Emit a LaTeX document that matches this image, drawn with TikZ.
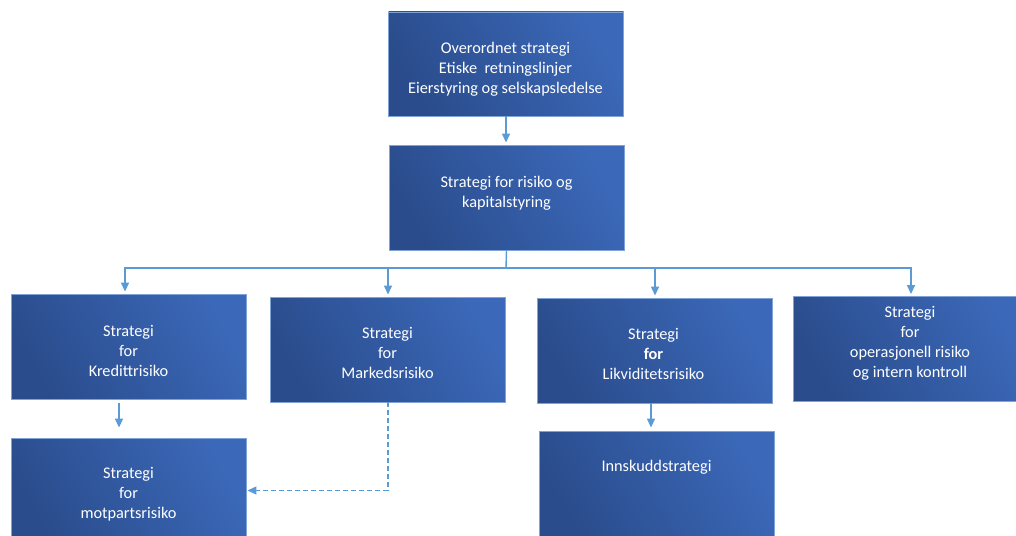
\documentclass[tikz,border=0pt]{standalone}
\usepackage{fontspec}
\setmainfont{Carlito}
\usetikzlibrary{arrows.meta}
\definecolor{boxdark}{HTML}{2A4C8C}
\definecolor{boxlight}{HTML}{3B68B8}
\definecolor{boxedge}{HTML}{7FA3D6}
\definecolor{conncol}{HTML}{5B9BD5}
\tikzset{
  stratbox/.style={draw=boxedge, line width=0.9pt, bottom color=boxdark, top color=boxlight, shading angle=-60,
    minimum width=235pt, minimum height=105pt, inner sep=0pt},
  boxtext/.style={text=white, align=center, inner sep=0pt, font=\fontsize{16.3}{20}\selectfont},
  conn/.style={draw=conncol, line width=1.4pt},
  arr/.style={conn, -{Triangle[length=9pt,width=8pt]}},
}
\begin{document}
\begin{tikzpicture}[x=1pt,y=-1pt]
\useasboundingbox (0,0) rectangle (1016,535);
\clip (0,0) rectangle (1016,535);
\node[stratbox, minimum height=104pt] (b1) at (506,64) {};
\node[stratbox] (b2) at (506.5,197.5) {};
\node[stratbox] (b3) at (128.5,346.5) {};
\node[stratbox] (b4) at (387.5,349.5) {};
\node[stratbox] (b5) at (654.5,350.5) {};
\node[stratbox] (b6) at (911,349) {};
\node[stratbox] (b7) at (128.5,490.5) {};
\node[stratbox] (b8) at (656.5,483.5) {};
\node[boxtext] (t1) at (505.5,69.5) {Overordnet strategi\\Etiske\ \ retningslinjer\\Eierstyring og selskapsledelse};
\node[boxtext] (t2) at (506.5,193) {Strategi for risiko og\\kapitalstyring};
\node[boxtext] (t3) at (128.5,351) {Strategi\\for\\Kredittrisiko};
\node[boxtext] (t4) at (387.5,353) {Strategi\\for\\Markedsrisiko};
\node[boxtext] (t5) at (653.5,354) {Strategi\\\textbf{for}\\Likviditetsrisiko};
\node[boxtext] (t6) at (910,343) {Strategi\\for\\operasjonell risiko\\og intern kontroll};
\node[boxtext] (t7) at (128.5,494) {Strategi\\for\\motpartsrisiko};
\node[boxtext] (t8) at (656.5,467.5) {Innskuddstrategi};
\coordinate (bus) at (506,268);
\draw[arr] (b1.south) -- ([yshift=2pt]b1.south |- b2.north);
\draw[conn] (b2.south) -- (bus);
\draw[arr] (bus) -| ([xshift=-3.5pt,yshift=2pt]b3.north);
\draw[arr] (bus) -| ([xshift=0.5pt,yshift=2pt]b4.north);
\draw[arr] (bus) -| ([xshift=0.5pt,yshift=2pt]b5.north);
\draw[arr] (bus) -| ([yshift=2pt]b6.north);
\draw[arr] ([xshift=-9.5pt,yshift=-4pt]b3.south) -- ([xshift=-9.5pt,yshift=10pt]b7.north);
\draw[arr] ([xshift=-3.5pt]b5.south) -- ([xshift=-5.5pt,yshift=3pt]b8.north);
\draw[arr, dash pattern=on 5pt off 3pt] ([xshift=0.5pt]b4.south) |- ([xshift=1pt]b7.east);
\end{tikzpicture}
\end{document}
